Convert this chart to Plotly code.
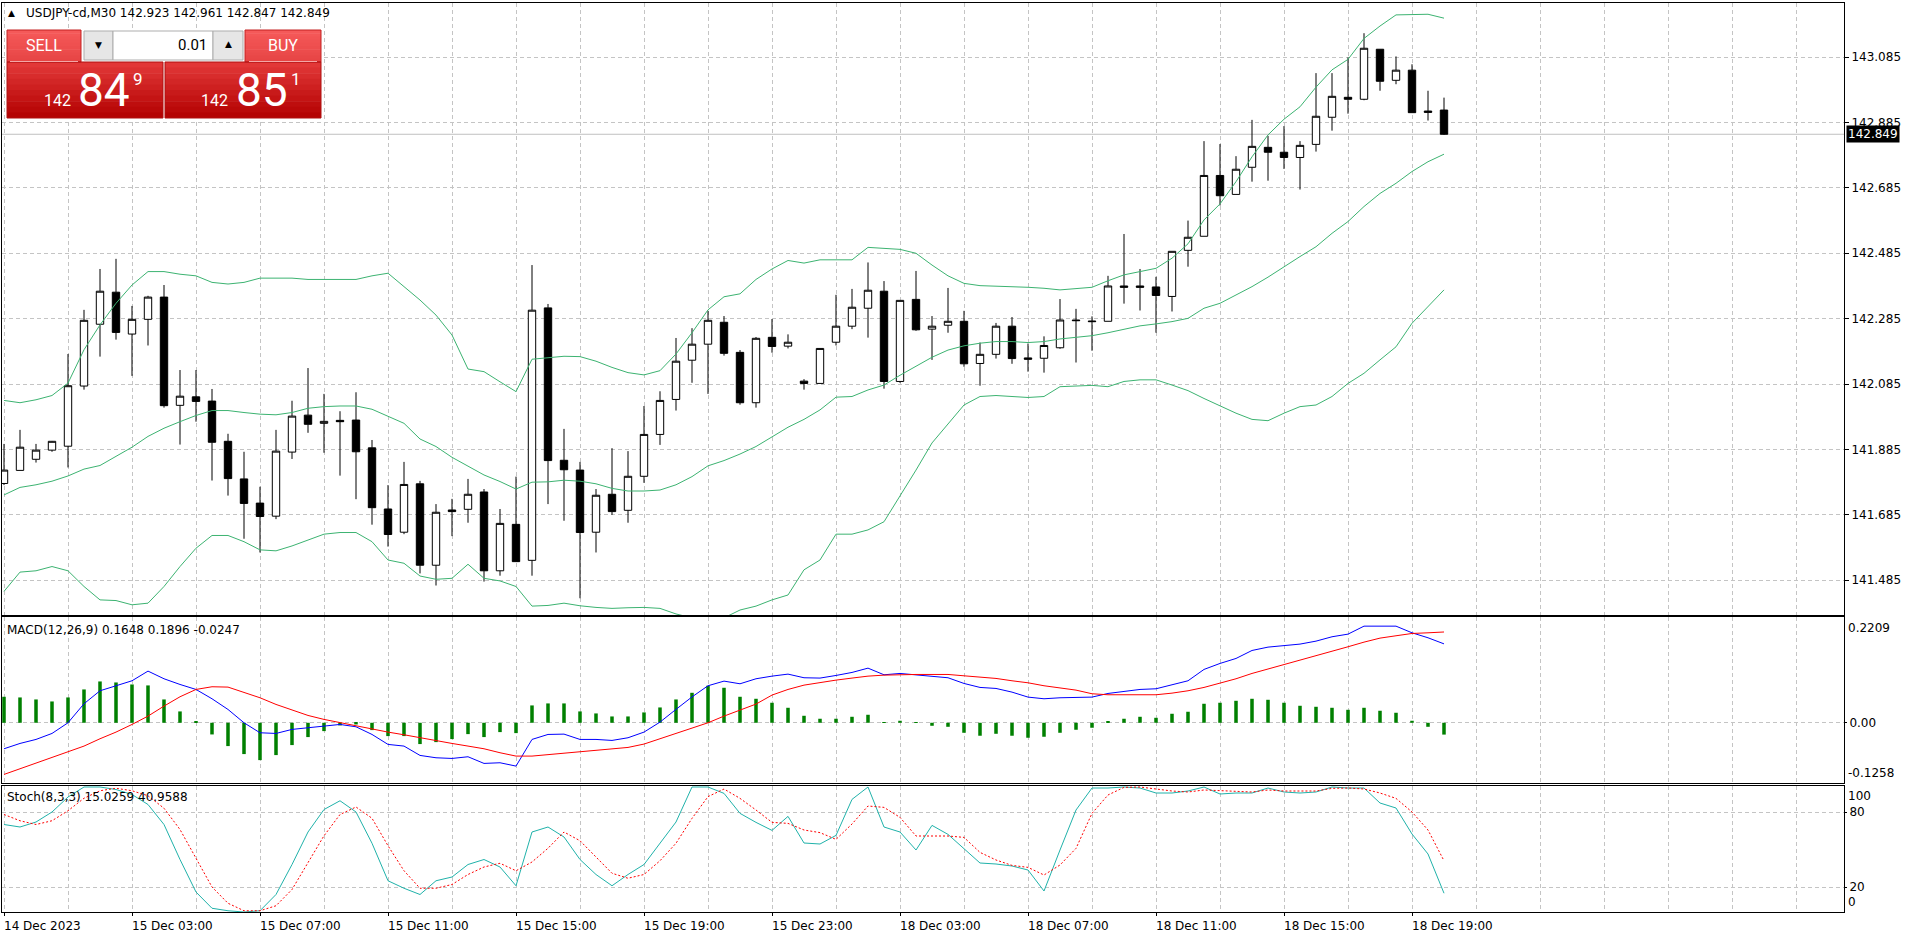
import plotly.graph_objects as go

# ---------------- data ----------------
tick_bars = [0, 8, 16, 24, 32, 40, 48, 56, 64, 72, 80, 88]
tick_labels = ["14 Dec 2023", "15 Dec 03:00", "15 Dec 07:00", "15 Dec 11:00", "15 Dec 15:00",
               "15 Dec 19:00", "15 Dec 23:00", "18 Dec 03:00", "18 Dec 07:00", "18 Dec 11:00",
               "18 Dec 15:00", "18 Dec 19:00"]

open_ = [141.781, 141.821, 141.855, 141.883, 141.895, 142.079, 142.268, 142.366, 142.238, 142.283,
         142.351, 142.020, 142.046, 142.033, 141.910, 141.795, 141.721, 141.681, 141.877, 141.990,
         141.965, 141.974, 141.975, 141.890, 141.703, 141.632, 141.780, 141.531, 141.700, 141.702,
         141.755, 141.514, 141.656, 141.546, 142.318, 141.852, 141.822, 141.632, 141.748, 141.699,
         141.803, 141.931, 142.038, 142.158, 142.207, 142.274, 142.182, 142.028, 142.228, 142.201,
         142.094, 142.087, 142.213, 142.262, 142.317, 142.369, 142.093, 142.344, 142.253, 142.265,
         142.277, 142.148, 142.176, 142.262, 142.165, 142.164, 142.196, 142.281, 142.278, 142.277,
         142.385, 142.385, 142.382, 142.353, 142.494, 142.537, 142.723, 142.665, 142.748, 142.809,
         142.794, 142.778, 142.818, 142.901, 142.962, 142.956, 143.109, 143.014, 143.045, 142.920,
         142.923]
high_ = [141.902, 141.945, 141.902, 141.911, 142.177, 142.312, 142.437, 142.468, 142.324, 142.355,
         142.388, 142.128, 142.128, 142.070, 141.933, 141.878, 141.771, 141.945, 142.034, 142.134,
         142.055, 142.002, 142.060, 141.914, 141.776, 141.847, 141.789, 141.718, 141.734, 141.795,
         141.764, 141.703, 141.802, 142.449, 142.330, 141.948, 141.847, 141.764, 141.889, 141.880,
         142.018, 142.063, 142.226, 142.256, 142.309, 142.293, 142.189, 142.229, 142.284, 142.237,
         142.100, 142.194, 142.358, 142.376, 142.457, 142.400, 142.341, 142.431, 142.293, 142.379,
         142.309, 142.212, 142.272, 142.290, 142.209, 142.231, 142.345, 142.315, 142.292, 142.416,
         142.544, 142.437, 142.413, 142.491, 142.585, 142.828, 142.819, 142.782, 142.893, 142.844,
         142.874, 142.828, 143.036, 143.036, 143.084, 143.158, 143.109, 143.087, 143.063, 142.982,
         142.961]
low_ = [141.776, 141.821, 141.845, 141.878, 141.830, 142.068, 142.169, 142.221, 142.110, 142.203,
        142.013, 141.900, 141.970, 141.790, 141.744, 141.612, 141.570, 141.672, 141.856, 141.936,
        141.875, 141.805, 141.733, 141.655, 141.588, 141.626, 141.506, 141.469, 141.620, 141.661,
        141.481, 141.499, 141.542, 141.499, 141.718, 141.667, 141.430, 141.570, 141.685, 141.661,
        141.783, 141.899, 142.004, 142.089, 142.055, 142.172, 142.022, 142.013, 142.181, 142.194,
        142.068, 142.087, 142.203, 142.253, 142.227, 142.071, 142.089, 142.248, 142.159, 142.242,
        142.138, 142.080, 142.163, 142.147, 142.123, 142.120, 142.193, 142.151, 142.187, 142.277,
        142.331, 142.310, 142.242, 142.307, 142.444, 142.537, 142.631, 142.665, 142.704, 142.707,
        142.743, 142.680, 142.796, 142.860, 142.912, 142.953, 142.982, 143.002, 142.915, 142.891,
        142.847]
close_ = [141.822, 141.892, 141.883, 141.910, 142.080, 142.280, 142.369, 142.243, 142.283, 142.351,
          142.019, 142.048, 142.032, 141.907, 141.796, 141.720, 141.680, 141.880, 141.987, 141.962,
          141.971, 141.970, 141.878, 141.707, 141.625, 141.778, 141.531, 141.693, 141.695, 141.748,
          141.514, 141.659, 141.542, 142.311, 141.851, 141.823, 141.631, 141.745, 141.695, 141.803,
          141.931, 142.035, 142.155, 142.207, 142.280, 142.179, 142.028, 142.225, 142.200, 142.213,
          142.087, 142.194, 142.262, 142.320, 142.372, 142.093, 142.341, 142.251, 142.262, 142.277,
          142.147, 142.176, 142.262, 142.163, 142.161, 142.203, 142.281, 142.279, 142.276, 142.385,
          142.381, 142.381, 142.356, 142.491, 142.534, 142.723, 142.661, 142.742, 142.812, 142.794,
          142.778, 142.815, 142.904, 142.965, 142.956, 143.112, 143.011, 143.045, 142.915, 142.916,
          142.849]

bb_upper = [142.035, 142.028, 142.037, 142.050, 142.088, 142.190, 142.266, 142.332, 142.388, 142.429,
            142.429, 142.421, 142.416, 142.396, 142.391, 142.396, 142.409, 142.409, 142.409, 142.405,
            142.405, 142.405, 142.405, 142.416, 142.424, 142.383, 142.342, 142.296, 142.235, 142.131,
            142.123, 142.092, 142.062, 142.161, 142.166, 142.170, 142.169, 142.155, 142.136, 142.120,
            142.113, 142.126, 142.177, 142.242, 142.312, 142.352, 142.361, 142.405, 142.437, 142.463,
            142.455, 142.465, 142.465, 142.465, 142.503, 142.500, 142.497, 142.485, 142.449, 142.416,
            142.393, 142.386, 142.385, 142.383, 142.381, 142.378, 142.373, 142.377, 142.381, 142.401,
            142.419, 142.429, 142.439, 142.470, 142.514, 142.587, 142.636, 142.704, 142.780, 142.847,
            142.895, 142.933, 142.993, 143.046, 143.078, 143.142, 143.180, 143.214, 143.214, 143.216,
            143.204]
bb_middle = [141.746, 141.769, 141.777, 141.788, 141.804, 141.825, 141.836, 141.863, 141.892, 141.925,
             141.950, 141.970, 141.989, 142.004, 142.004, 141.998, 141.993, 141.991, 141.998, 142.011,
             142.016, 142.018, 142.018, 142.008, 141.987, 141.965, 141.917, 141.894, 141.861, 141.833,
             141.807, 141.787, 141.764, 141.785, 141.786, 141.791, 141.788, 141.780, 141.766, 141.758,
             141.758, 141.761, 141.777, 141.802, 141.835, 141.851, 141.871, 141.894, 141.924, 141.953,
             141.977, 142.006, 142.045, 142.047, 142.067, 142.082, 142.112, 142.140, 142.167, 142.189,
             142.202, 142.210, 142.215, 142.215, 142.212, 142.215, 142.223, 142.228, 142.233, 142.242,
             142.253, 142.263, 142.269, 142.276, 142.286, 142.317, 142.332, 142.357, 142.383, 142.412,
             142.444, 142.475, 142.505, 142.546, 142.582, 142.628, 142.668, 142.699, 142.735, 142.765,
             142.788]
bb_lower = [141.451, 141.510, 141.514, 141.527, 141.514, 141.466, 141.425, 141.423, 141.410, 141.415,
            141.466, 141.527, 141.583, 141.622, 141.622, 141.603, 141.578, 141.575, 141.590, 141.608,
            141.626, 141.631, 141.631, 141.603, 141.547, 141.537, 141.498, 141.488, 141.491, 141.534,
            141.491, 141.483, 141.466, 141.406, 141.408, 141.415, 141.407, 141.402, 141.399, 141.401,
            141.402, 141.399, 141.382, 141.370, 141.365, 141.370, 141.394, 141.406, 141.425, 141.440,
            141.517, 141.547, 141.626, 141.626, 141.639, 141.664, 141.741, 141.822, 141.905, 141.963,
            142.021, 142.047, 142.050, 142.047, 142.044, 142.047, 142.077, 142.079, 142.081, 142.077,
            142.093, 142.098, 142.098, 142.082, 142.065, 142.041, 142.018, 141.996, 141.977, 141.973,
            141.996, 142.016, 142.021, 142.047, 142.087, 142.118, 142.159, 142.199, 142.271, 142.322,
            142.373]

macd_main = [-0.0543, -0.0432, -0.0348, -0.0223, 0.0000, 0.0397, 0.0668, 0.0766, 0.0877, 0.1079,
             0.0919, 0.0800, 0.0696, 0.0501, 0.0278, 0.0000, -0.0209, -0.0223, -0.0139, -0.0104,
             -0.0070, -0.0035, -0.0084, -0.0244, -0.0452, -0.0487, -0.0682, -0.0731, -0.0745, -0.0710,
             -0.0849, -0.0835, -0.0905, -0.0348, -0.0244, -0.0237, -0.0348, -0.0348, -0.0369, -0.0313,
             -0.0195, 0.0014, 0.0280, 0.0540, 0.0773, 0.0870, 0.0814, 0.0919, 0.0974, 0.1016,
             0.0940, 0.0933, 0.0988, 0.1051, 0.1141, 0.1002, 0.1030, 0.0995, 0.0974, 0.0940,
             0.0821, 0.0738, 0.0717, 0.0640, 0.0536, 0.0501, 0.0522, 0.0529, 0.0536, 0.0612,
             0.0654, 0.0696, 0.0710, 0.0786, 0.0877, 0.1114, 0.1239, 0.1343, 0.1510, 0.1580,
             0.1615, 0.1643, 0.1705, 0.1796, 0.1851, 0.2018, 0.2018, 0.2018, 0.1879, 0.1775,
             0.1648]
macd_signal = [-0.1079, -0.0960, -0.0849, -0.0731, -0.0612, -0.0487, -0.0334, -0.0195, -0.0035, 0.0139,
               0.0348, 0.0543, 0.0696, 0.0752, 0.0745, 0.0640, 0.0522, 0.0383, 0.0264, 0.0153,
               0.0070, 0.0000, -0.0070, -0.0139, -0.0195, -0.0251, -0.0313, -0.0383, -0.0432, -0.0487,
               -0.0543, -0.0626, -0.0696, -0.0696, -0.0668, -0.0640, -0.0606, -0.0578, -0.0543, -0.0515,
               -0.0445, -0.0330, -0.0220, -0.0105, 0.0000, 0.0139, 0.0264, 0.0390, 0.0578, 0.0696,
               0.0786, 0.0842, 0.0891, 0.0933, 0.0974, 0.0995, 0.1009, 0.1009, 0.1009, 0.1009,
               0.0981, 0.0960, 0.0926, 0.0877, 0.0835, 0.0773, 0.0731, 0.0682, 0.0606, 0.0585,
               0.0585, 0.0585, 0.0585, 0.0619, 0.0668, 0.0738, 0.0821, 0.0919, 0.1030, 0.1121,
               0.1211, 0.1308, 0.1399, 0.1496, 0.1587, 0.1684, 0.1768, 0.1817, 0.1865, 0.1879,
               0.1896]
macd_hist = [0.0543, 0.0529, 0.0487, 0.0445, 0.0529, 0.0696, 0.0863, 0.0842, 0.0800, 0.0780,
             0.0487, 0.0237, 0.0021, -0.0244, -0.0487, -0.0654, -0.0780, -0.0675, -0.0466, -0.0299,
             -0.0174, -0.0056, -0.0035, -0.0153, -0.0278, -0.0278, -0.0445, -0.0404, -0.0341, -0.0237,
             -0.0299, -0.0195, -0.0216, 0.0362, 0.0404, 0.0404, 0.0237, 0.0195, 0.0132, 0.0132,
             0.0216, 0.0320, 0.0487, 0.0626, 0.0773, 0.0731, 0.0543, 0.0501, 0.0418, 0.0313,
             0.0146, 0.0084, 0.0084, 0.0125, 0.0167, 0.0010, 0.0042, 0.0007, -0.0063, -0.0084,
             -0.0209, -0.0271, -0.0230, -0.0271, -0.0313, -0.0292, -0.0209, -0.0146, -0.0104, 0.0021,
             0.0084, 0.0125, 0.0104, 0.0188, 0.0230, 0.0397, 0.0418, 0.0459, 0.0501, 0.0480,
             0.0418, 0.0355, 0.0334, 0.0313, 0.0271, 0.0313, 0.0251, 0.0209, 0.0042, -0.0084,
             -0.0247]

stoch_main = [70, 68, 72, 80, 92, 100, 100, 98, 94, 86,
              70, 42, 16, 3, 1, 0, 1, 14, 38, 64,
              82, 89, 80, 55, 25, 19, 14, 25, 28, 38,
              42, 36, 21, 64, 68, 60, 42, 30, 21, 30,
              38, 55, 72, 100, 100, 94.9, 78.9, 71.7, 65.3, 76.5,
              55.2, 54.4, 61.3, 90.1, 100, 68.0, 64.0, 49.6, 69.3, 62.1,
              50.4, 39.2, 38.4, 36.8, 33.6, 16.8, 49.6, 81.6, 99.2, 99.2,
              100, 99.2, 95.2, 95.2, 96.8, 100, 94.4, 95.2, 95.2, 99.2,
              96.0, 95.2, 96.0, 100, 99.2, 99.2, 87.2, 83.2, 62.4, 46.4,
              15.0259]
stoch_signal = [78, 73, 70, 73, 81, 91, 97, 99, 97, 93,
                83, 66, 43, 20, 7, 1, 1, 5, 18, 39,
                61, 78, 84, 75, 53, 33, 19, 19, 22, 30,
                36, 39, 33, 40, 51, 64, 57, 44, 31, 27,
                30, 41, 55, 74.9, 92.3, 98.4, 90.9, 81.6, 71.7, 70.9,
                65.6, 63.5, 58.1, 70.4, 84.8, 83.7, 75.7, 60.8, 60.8, 60.8,
                59.7, 47.7, 41.6, 37.3, 35.7, 29.6, 37.6, 50.9, 78.9, 93.6,
                99.7, 100, 98.4, 96.8, 96.0, 97.6, 97.1, 96.8, 96.0, 97.6,
                96.8, 96.8, 96.8, 98.9, 99.2, 98.4, 95.2, 90.9, 80.0, 65.6,
                40.9588]

price_ticks = [141.485, 141.685, 141.885, 142.085, 142.285, 142.485, 142.685, 142.885, 143.085]
price_range = [141.3788, 143.2504]
macd_range = [-0.1258, 0.2209]
stoch_range = [0, 100.8]
bid_price = 142.849
ask_price = 142.851
lot_size = "0.01"
symbol = "USDJPY-cd,M30"

# ---------------- geometry ----------------
W, H = 1916, 940
ML, MR, MTOP, MB = 2, 72, 3, 28
PW, PH = W - ML - MR, H - MTOP - MB
BAR_PX = 16.0
X0 = -2.0 / BAR_PX
X_RANGE = [X0, X0 + PW / BAR_PX]


def px_x(px):
    return (px - ML) / PW


def px_y(py):
    return 1 - (py - MTOP) / PH


FONT = "DejaVu Sans"
GRID = "#c4c4c4"
DASH = "4px,3px"
xs = list(range(len(close_)))

fig = go.Figure()
fig.add_trace(go.Candlestick(
    x=xs, open=open_, high=high_, low=low_, close=close_,
    increasing=dict(fillcolor="white", line=dict(color="black", width=1)),
    decreasing=dict(fillcolor="black", line=dict(color="black", width=1)),
    whiskerwidth=0, xaxis="x", yaxis="y", hoverinfo="skip"))
for band in (bb_upper, bb_middle, bb_lower):
    fig.add_trace(go.Scatter(x=xs, y=band, mode="lines", line=dict(color="#3CB371", width=1),
                             xaxis="x", yaxis="y", hoverinfo="skip"))
fig.add_trace(go.Bar(x=xs, y=macd_hist, width=0.22, marker=dict(color="#008000", line=dict(width=0)),
                     xaxis="x2", yaxis="y2", hoverinfo="skip"))
fig.add_trace(go.Scatter(x=xs, y=macd_main, mode="lines", line=dict(color="#0000FF", width=1),
                         xaxis="x2", yaxis="y2", hoverinfo="skip"))
fig.add_trace(go.Scatter(x=xs, y=macd_signal, mode="lines", line=dict(color="#FF0000", width=1),
                         xaxis="x2", yaxis="y2", hoverinfo="skip"))
fig.add_trace(go.Scatter(x=xs, y=stoch_main, mode="lines", line=dict(color="#20B2AA", width=1),
                         xaxis="x3", yaxis="y3", hoverinfo="skip"))
fig.add_trace(go.Scatter(x=xs, y=stoch_signal, mode="lines",
                         line=dict(color="#FF0000", width=1, dash="2px,2px"),
                         xaxis="x3", yaxis="y3", hoverinfo="skip"))

all_grid = list(range(0, int(X_RANGE[1]) + 1, 4))


def xaxis_cfg(anchor, bottom=False):
    d = dict(domain=[0, 1], range=X_RANGE, anchor=anchor, showline=True, linecolor="black",
             linewidth=1, mirror=True, zeroline=False, showticklabels=False, showgrid=True,
             gridcolor=GRID, gridwidth=1, griddash=DASH, fixedrange=True,
             rangeslider=dict(visible=False))
    if bottom:
        d.update(tickmode="array", tickvals=tick_bars, ticks="outside", ticklen=3,
                 tickcolor="black", tickwidth=1,
                 minor=dict(tickmode="array", tickvals=[v for v in all_grid if v not in tick_bars],
                            showgrid=True, gridcolor=GRID, griddash=DASH, gridwidth=1, ticks=""))
    else:
        d.update(tickmode="array", tickvals=all_grid, ticks="")
    return d


def yaxis_cfg(anchor, dom, rng, tv, tt, ticklen):
    return dict(domain=dom, range=rng, anchor=anchor, side="right", tickmode="array",
                tickvals=tv, ticktext=tt, ticks="outside", ticklen=ticklen, tickcolor="black",
                tickwidth=1, showline=True, linecolor="black", linewidth=1, mirror=True,
                showgrid=True, gridcolor=GRID, gridwidth=1, griddash=DASH, zeroline=False,
                fixedrange=True, tickfont=dict(family=FONT, size=12, color="black"))


layout = dict(
    width=W, height=H, margin=dict(l=ML, r=MR, t=MTOP, b=MB, pad=0),
    paper_bgcolor="white", plot_bgcolor="white", showlegend=False, boxgap=0.34,
    hovermode=False,
    xaxis=xaxis_cfg("y"), xaxis2=xaxis_cfg("y2"), xaxis3=xaxis_cfg("y3", bottom=True),
    yaxis=yaxis_cfg("x", [px_y(615), 1], price_range, price_ticks,
                    [f"{v:.3f}" for v in price_ticks], 4),
    yaxis2=yaxis_cfg("x2", [px_y(783), px_y(617)], macd_range, [0], ["0.00"], 2),
    yaxis3=yaxis_cfg("x3", [0, px_y(786)], stoch_range, [20, 80], ["20", "80"], 2),
)
fig.update_layout(**layout)

shapes = []
ann = []

# current price line + label
shapes.append(dict(type="line", xref="paper", yref="y", x0=0, x1=1, y0=bid_price, y1=bid_price,
                   line=dict(color="#c0c0c0", width=1), layer="below"))
ann.append(dict(xref="paper", yref="y", x=1, y=bid_price, xanchor="left", yanchor="middle",
                xshift=2, text=f"{bid_price:.3f}", showarrow=False, bgcolor="black", borderpad=1,
                font=dict(family=FONT, size=12, color="white")))

# edge labels of indicator scales
ann.append(dict(xref="paper", yref="y2", x=1, y=macd_range[1], xanchor="left", yanchor="top",
                xshift=2, yshift=-2, text=f"{macd_range[1]:.4f}", showarrow=False,
                font=dict(family=FONT, size=12, color="black")))
ann.append(dict(xref="paper", yref="y2", x=1, y=macd_range[0], xanchor="left", yanchor="bottom",
                xshift=2, yshift=1, text=f"{macd_range[0]:.4f}", showarrow=False,
                font=dict(family=FONT, size=12, color="black")))
ann.append(dict(xref="paper", yref="y3", x=1, y=stoch_range[1], xanchor="left", yanchor="top",
                xshift=2, yshift=-1, text="100", showarrow=False,
                font=dict(family=FONT, size=12, color="black")))
ann.append(dict(xref="paper", yref="y3", x=1, y=stoch_range[0], xanchor="left", yanchor="bottom",
                xshift=2, yshift=1, text="0", showarrow=False,
                font=dict(family=FONT, size=12, color="black")))

# time labels
for b, t in zip(tick_bars, tick_labels):
    ann.append(dict(xref="x3", yref="paper", x=b, y=0, xanchor="left", yanchor="top", xshift=-2,
                    yshift=-5, text=t, showarrow=False,
                    font=dict(family=FONT, size=12, color="black")))

# indicator titles
ann.append(dict(xref="paper", yref="paper", x=px_x(5), y=px_y(630), xanchor="left",
                yanchor="middle", showarrow=False,
                text=f"MACD(12,26,9) {macd_main[-1]:.4f} {macd_signal[-1]:.4f} {macd_hist[-1]:.4f}",
                font=dict(family=FONT, size=12, color="black")))
ann.append(dict(xref="paper", yref="paper", x=px_x(5), y=px_y(797), xanchor="left",
                yanchor="middle", showarrow=False,
                text=f"Stoch(8,3,3) {stoch_main[-1]:.4f} {stoch_signal[-1]:.4f}",
                font=dict(family=FONT, size=12, color="black")))

# chart header
ann.append(dict(xref="paper", yref="paper", x=px_x(6), y=px_y(13), xanchor="left",
                yanchor="middle", showarrow=False, text="▲",
                font=dict(family=FONT, size=9, color="black")))
ann.append(dict(xref="paper", yref="paper", x=px_x(24), y=px_y(13), xanchor="left",
                yanchor="middle", showarrow=False,
                text=f"{symbol} {open_[-1]:.3f} {high_[-1]:.3f} {low_[-1]:.3f} {close_[-1]:.3f}",
                font=dict(family=FONT, size=12, color="black")))


# ---------------- one-click trading panel ----------------
def _hex(c):
    c = c.lstrip("#")
    return [int(c[i:i + 2], 16) for i in (0, 2, 4)]


def mix(c1, c2, t):
    a, b = _hex(c1), _hex(c2)
    return "#" + "".join(f"{int(round(a[k] + (b[k] - a[k]) * t)):02x}" for k in range(3))


def rect(x0, y0, x1, y1, fill, line_color=None, lw=1):
    shapes.append(dict(type="rect", xref="paper", yref="paper", x0=px_x(x0), x1=px_x(x1),
                       y0=px_y(y1), y1=px_y(y0), fillcolor=fill,
                       line=dict(color=line_color or fill, width=lw if line_color else 0),
                       layer="above"))


def grad(x0, y0, x1, y1, ctop, cbot, n=10):
    for k in range(n):
        ya = y0 + (y1 - y0) * k / n
        yb = y0 + (y1 - y0) * (k + 1) / n + 0.6
        rect(x0, ya, x1, min(yb, y1), mix(ctop, cbot, (k + 0.5) / n))


def outline(x0, y0, x1, y1, col):
    shapes.append(dict(type="rect", xref="paper", yref="paper", x0=px_x(x0), x1=px_x(x1),
                       y0=px_y(y1), y1=px_y(y0), fillcolor="rgba(0,0,0,0)",
                       line=dict(color=col, width=1), layer="above"))


def text(x, y, s, size, color="white", anchor="left", family="Roboto"):
    ann.append(dict(xref="paper", yref="paper", x=px_x(x), y=px_y(y), xanchor=anchor,
                    yanchor="middle", showarrow=False, text=s,
                    font=dict(family=family, size=size, color=color)))


# white backing
rect(5, 29, 323, 120, "white")
# sell / buy tabs
grad(7, 30, 81, 62, "#f65a5a", "#e64444")
grad(245, 30, 321, 62, "#f65a5a", "#e64444")
# big price boxes
grad(7, 62, 163, 118, "#e43a3a", "#b20000")
grad(165, 62, 321, 118, "#e43a3a", "#b20000")
outline(7, 30, 81, 62, "#c42222")
outline(245, 30, 321, 62, "#c42222")
outline(7, 62, 163, 118, "#b01010")
outline(165, 62, 321, 118, "#b01010")
# separator lines under the tab labels
shapes.append(dict(type="line", xref="paper", yref="paper", x0=px_x(10), x1=px_x(78),
                   y0=px_y(61.5), y1=px_y(61.5), line=dict(color="rgba(255,200,200,0.8)", width=1),
                   layer="above"))
shapes.append(dict(type="line", xref="paper", yref="paper", x0=px_x(249), x1=px_x(317),
                   y0=px_y(61.5), y1=px_y(61.5), line=dict(color="rgba(255,200,200,0.8)", width=1),
                   layer="above"))
# lot-size control
rect(84, 31, 113, 60, "#e6e6e6", "#adadad")
rect(113, 31, 213, 60, "white", "#adadad")
rect(213, 31, 243, 60, "#e6e6e6", "#adadad")
text(98, 45, "▼", 9, color="black", anchor="center", family=FONT)
text(228, 44, "▲", 9, color="black", anchor="center", family=FONT)
text(209, 45, lot_size, 15, color="black", anchor="right", family="Roboto")

text(44, 46, "SELL", 16, anchor="center")
text(283, 46, "BUY", 16, anchor="center")

for p, x_small, x_big, x_sup in ((bid_price, 42, 76, 131), (ask_price, 199, 234, 289)):
    s = f"{p:.3f}"
    text(x_small, 100, s[:3], 16)
    text(x_big, 90, s[4:6], 46)
    text(x_sup, 79, s[6:], 17)

fig.update_layout(shapes=shapes, annotations=ann)
fig.write_html("out.html", config={"displayModeBar": False},
               post_script="document.body.style.margin='0';document.body.style.padding='0';"
                           "document.body.style.overflow='hidden';")
